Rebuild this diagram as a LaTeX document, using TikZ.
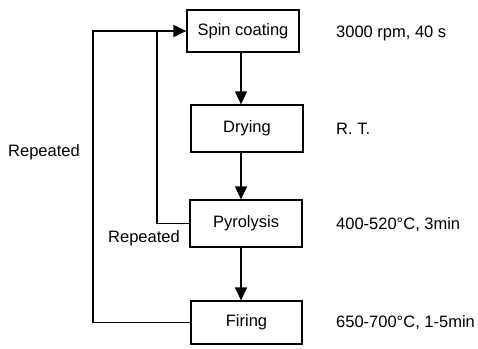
\documentclass[tikz,border=0pt]{standalone}
\usepackage{fontspec}
\setmainfont{Liberation Sans}
\usetikzlibrary{arrows.meta}
\begin{document}
\begin{tikzpicture}[x=1pt,y=-1pt,
  stepbox/.style={draw, line width=1.3pt, inner sep=0pt, minimum width=112pt},
  lab/.style={anchor=west, inner sep=0pt},
  conn/.style={line width=1.3pt},
  arr/.style={conn, -{Triangle[length=13pt,width=12pt]}},
  font=\fontsize{16.5}{19}\selectfont]
\useasboundingbox (0,0) rectangle (478,348);
\node[stepbox, minimum height=42pt] (spin) at (243,31) {Spin coating};
\node[stepbox, minimum height=47pt] (dry) at (247,128.5) {Drying};
\node[stepbox, minimum height=47pt] (pyro) at (246,223.5) {Pyrolysis};
\node[stepbox, minimum height=43pt, minimum width=111pt] (fire) at (246.5,322.5) {Firing};
\coordinate (ax) at (241,0);
\coordinate (outer) at (93,0);
\coordinate (inner) at (157,0);
\draw[arr] (spin.south -| ax) -- (dry.north -| ax);
\draw[arr] (dry.south -| ax) -- (pyro.north -| ax);
\draw[arr] (pyro.south -| ax) -- (fire.north -| ax);
\draw[arr] (fire.west) -- (fire.west -| outer) -- (spin.west -| outer) -- (spin.west);
\draw[conn] (pyro.west) -- (pyro.west -| inner) -- (spin.west -| inner);
\node[lab] (t1) at (336,33) {3000 rpm, 40 s};
\node[lab] (t2) at (336,128.5) {R. T.};
\node[lab] (t3) at (336,225) {400-520°C, 3min};
\node[lab] (t4) at (336,323) {650-700°C, 1-5min};
\node (r1) at (44,152) {Repeated};
\node (r2) at (144,238) {Repeated};
\end{tikzpicture}
\end{document}
